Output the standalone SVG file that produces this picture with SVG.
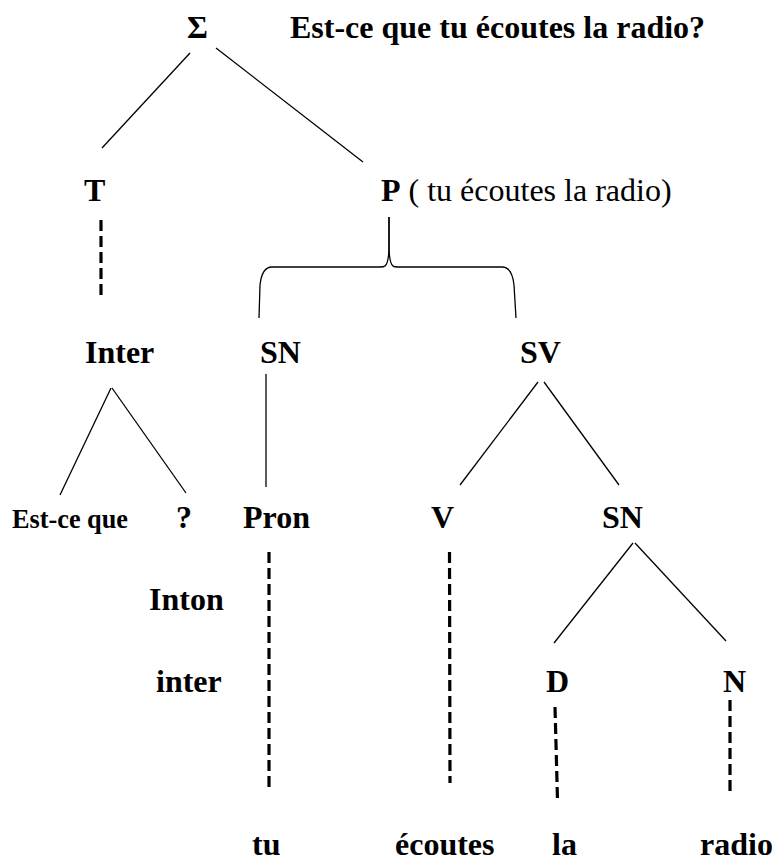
<svg xmlns="http://www.w3.org/2000/svg" width="776" height="863" viewBox="0 0 776 863">
<style>
text{font-family:"Liberation Serif","Times New Roman",serif;font-weight:bold;font-size:32px;fill:#000}
.sm{font-size:28px}
.reg{font-weight:normal}
.ln{stroke:#000;stroke-width:1.3;fill:none}
.ds{stroke:#000;stroke-width:3.2;stroke-dasharray:11 5;fill:none}
</style>
<rect width="776" height="863" fill="#fff"/>
<g id="connectors">
<line class="ln" x1="190" y1="53" x2="102" y2="148"/>
<line class="ln" x1="216" y1="48" x2="363" y2="162"/>
<line class="ds" x1="101" y1="220" x2="101" y2="295"/>
<path class="ln" d="M389,217 C389,245 390,262 385,266 Q384,267 380,267 L272,267 Q262,267 260,285 L259,318"/>
<path class="ln" d="M389,217 C389,245 388,262 393,266 Q394,267 398,267 L502,267 Q512,267 514,285 L516,318"/>
<line class="ln" x1="111" y1="388" x2="60" y2="495"/>
<line class="ln" x1="112" y1="388" x2="186" y2="493"/>
<line class="ln" x1="266" y1="374" x2="266" y2="487"/>
<line class="ln" x1="538" y1="382" x2="460" y2="485"/>
<line class="ln" x1="544" y1="382" x2="619" y2="485"/>
<line class="ln" x1="633" y1="543" x2="554" y2="643"/>
<line class="ln" x1="635" y1="543" x2="726" y2="641"/>
<line class="ds" x1="269" y1="552" x2="269" y2="787"/>
<line class="ds" x1="449.5" y1="552" x2="450" y2="783"/>
<line class="ds" x1="555" y1="707" x2="557.5" y2="800"/>
<line class="ds" x1="730" y1="700" x2="730" y2="792"/>
</g>
<g id="sigma"><text x="187" y="38">Σ</text></g>
<g id="title"><text x="290" y="38">Est-ce que tu écoutes la radio?</text></g>
<g id="T"><text x="84" y="201">T</text></g>
<g id="P"><text x="381" y="201">P<tspan class="reg"> ( tu écoutes la radio)</tspan></text></g>
<g id="Inter"><text x="85" y="363">Inter</text></g>
<g id="SN1"><text x="260" y="363">SN</text></g>
<g id="SV"><text x="520" y="363">SV</text></g>
<g id="EstCeQue"><text class="sm" x="12" y="528" textLength="116" lengthAdjust="spacingAndGlyphs">Est-ce que</text></g>
<g id="Q"><text x="176" y="528">?</text></g>
<g id="Pron"><text x="243" y="528">Pron</text></g>
<g id="V"><text x="431" y="528">V</text></g>
<g id="SN2"><text x="602" y="528">SN</text></g>
<g id="IntonInter"><text x="149" y="610">Inton</text><text x="156" y="692">inter</text></g>
<g id="D"><text x="546" y="692">D</text></g>
<g id="N"><text x="723" y="692">N</text></g>
<g id="tu"><text x="252" y="855">tu</text></g>
<g id="ecoutes"><text x="395" y="855">écoutes</text></g>
<g id="la"><text x="552" y="855">la</text></g>
<g id="radio"><text x="700" y="855">radio</text></g>
</svg>
